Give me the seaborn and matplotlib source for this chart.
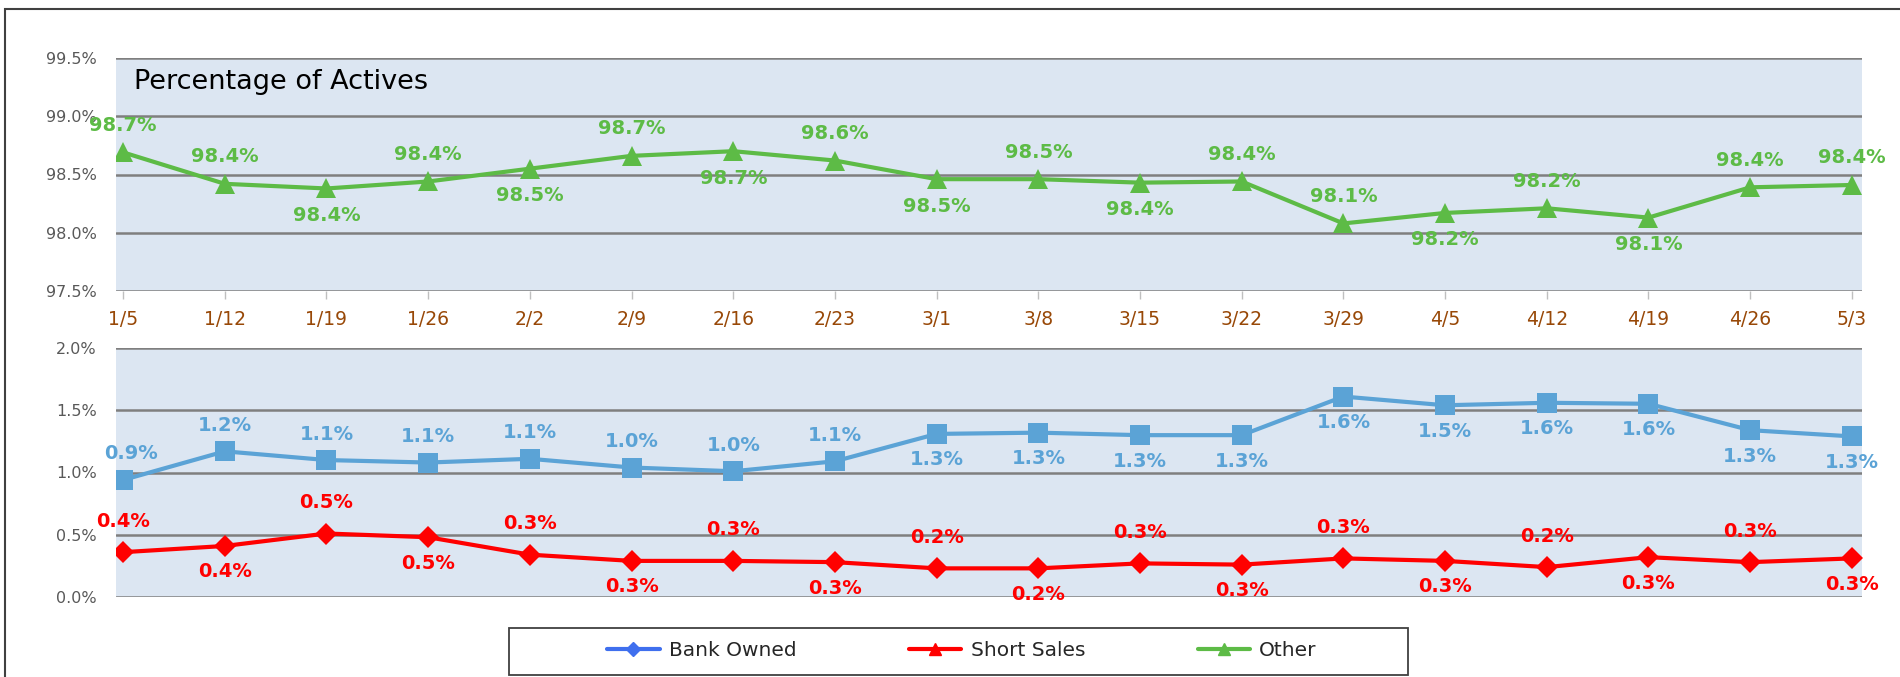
import numpy as np
import pandas as pd
import matplotlib
matplotlib.use("Agg")
import matplotlib.pyplot as plt
from matplotlib.lines import Line2D
from matplotlib.patches import Rectangle
import seaborn as sns

# ---------------- data ----------------
weeks = ["1/5", "1/12", "1/19", "1/26", "2/2", "2/9", "2/16", "2/23", "3/1",
         "3/8", "3/15", "3/22", "3/29", "4/5", "4/12", "4/19", "4/26", "5/3"]
other = [98.69, 98.42, 98.38, 98.44, 98.55, 98.66, 98.70, 98.62, 98.46,
         98.46, 98.43, 98.44, 98.08, 98.17, 98.21, 98.13, 98.39, 98.41]
bank_owned = [0.94, 1.17, 1.10, 1.08, 1.11, 1.04, 1.01, 1.09, 1.31,
              1.32, 1.30, 1.30, 1.61, 1.54, 1.56, 1.552, 1.34, 1.29]
short_sales = [0.36, 0.41, 0.51, 0.48, 0.34, 0.29, 0.29, 0.28, 0.23,
               0.23, 0.27, 0.26, 0.31, 0.29, 0.24, 0.32, 0.28, 0.31]
top_yticks = [97.5, 98.0, 98.5, 99.0, 99.5]
bot_yticks = [0.0, 0.5, 1.0, 1.5, 2.0]
series_names = ["Bank Owned", "Short Sales", "Other"]
panel_title = "Percentage of Actives"

# label placement (+1 above, -1 below)
other_pos = [1, 1, -1, 1, -1, 1, -1, 1, -1, 1, -1, 1, 1, -1, 1, -1, 1, 1]
bank_pos = [1] * 8 + [-1] * 10
short_pos = [1, -1] * 9

# ---------------- style ----------------
sns.set_theme(style="white")
plt.rcParams["font.family"] = ["DejaVu Sans"]

GREEN = "#5DBB46"
BLUE = "#5BA3D6"
RED = "#FF0000"
BG = "#DCE6F2"
GRID = "#7F7F7F"
YTICK = "#595959"
XTICK = "#984807"

df = pd.DataFrame({"week": weeks, "x": np.arange(len(weeks)),
                   "other": other, "bank": bank_owned, "short": short_sales})

fig = plt.figure(figsize=(19, 6.77), dpi=100)
L, R = 116 / 1900, 1862 / 1900
ax1 = fig.add_axes([L, 1 - 291 / 677, R - L, (291 - 58) / 677])
ax2 = fig.add_axes([L, 1 - 597 / 677, R - L, (597 - 348) / 677])

for ax, ticks in ((ax1, top_yticks), (ax2, bot_yticks)):
    ax.set_facecolor(BG)
    for s in ax.spines.values():
        s.set_visible(False)
    ax.set_ylim(ticks[0], ticks[-1])
    ax.set_yticks(ticks)
    ax.set_yticklabels([f"{t:.1f}%" for t in ticks], color=YTICK, fontsize=11.5)
    ax.yaxis.grid(True, color=GRID, linewidth=1.8, zorder=0)
    ax.set_axisbelow(True)
    ax.set_xlim(-0.07, len(weeks) - 1 + 0.1)
    ax.tick_params(axis="y", length=0, pad=14)
    ax.set_xlabel("")
    ax.set_ylabel("")

# top panel: Other
sns.lineplot(data=df, x="x", y="other", ax=ax1, color=GREEN, linewidth=3,
             marker="^", markersize=14, markeredgewidth=0, zorder=3)
ax1.set_xticks(df["x"])
ax1.set_xticklabels(weeks, color=XTICK, fontsize=13.5)
ax1.tick_params(axis="x", length=6, width=1, color="#BFBFBF", pad=8, direction="out",
                bottom=True)
ax1.set_xlabel("")
ax1.set_ylabel("")
ax1.set_ylim(top_yticks[0], top_yticks[-1])
ax1.text(0.0103, 0.895, panel_title, transform=ax1.transAxes, fontsize=19.5,
         color="black", va="center", ha="left")

for xi, v, p in zip(df["x"], other, other_pos):
    ax1.annotate(f"{v:.1f}%", (xi, v), xytext=(0, 27 * p), textcoords="offset pixels",
                 ha="center", va="center", color=GREEN, fontsize=14,
                 fontweight="bold", zorder=4)

# bottom panel: Bank Owned and Short Sales
sns.lineplot(data=df, x="x", y="bank", ax=ax2, color=BLUE, linewidth=3,
             marker="s", markersize=15, markeredgewidth=0, zorder=3)
sns.lineplot(data=df, x="x", y="short", ax=ax2, color=RED, linewidth=3,
             marker="D", markersize=11, markeredgewidth=0, zorder=3)
ax2.set_xticks([])
ax2.set_xlabel("")
ax2.set_ylabel("")
ax2.set_ylim(bot_yticks[0], bot_yticks[-1])

for i, (xi, v, p) in enumerate(zip(df["x"], bank_owned, bank_pos)):
    dx = 8 if i == 0 else 0
    ax2.annotate(f"{v:.1f}%", (xi, v), xytext=(dx, 26 * p), textcoords="offset pixels",
                 ha="center", va="center", color=BLUE, fontsize=14,
                 fontweight="bold", zorder=4)
for xi, v, p in zip(df["x"], short_sales, short_pos):
    off = 31 if p > 0 else -26
    ax2.annotate(f"{v:.1f}%", (xi, v), xytext=(0, off), textcoords="offset pixels",
                 ha="center", va="center", color=RED, fontsize=14,
                 fontweight="bold", zorder=4)

# outer frame (left and top edges visible)
fig.add_artist(Rectangle((5 / 1900, -0.2), 1.2, 1.2 - 9 / 677,
                         transform=fig.transFigure, fill=False,
                         edgecolor="#404040", linewidth=1.5))

# legend box
fig.add_artist(Rectangle((509 / 1900, 1 - 675 / 677), (1408 - 509) / 1900,
                         (675 - 628) / 677, transform=fig.transFigure,
                         fill=False, edgecolor="#404040", linewidth=1.3))
handles = [
    Line2D([], [], color="#3F6FEE", linewidth=3, marker="D", markersize=7),
    Line2D([], [], color=RED, linewidth=3, marker="^", markersize=9),
    Line2D([], [], color="#5DBB46", linewidth=3, marker="^", markersize=9),
]
fig.legend(handles, series_names, loc="center",
           bbox_to_anchor=(962 / 1900, 1 - 651 / 677),
           ncol=3, frameon=False, fontsize=14.5, handlelength=2.6,
           columnspacing=5.6, handletextpad=0.45)

fig.savefig("out.png", dpi=100)
